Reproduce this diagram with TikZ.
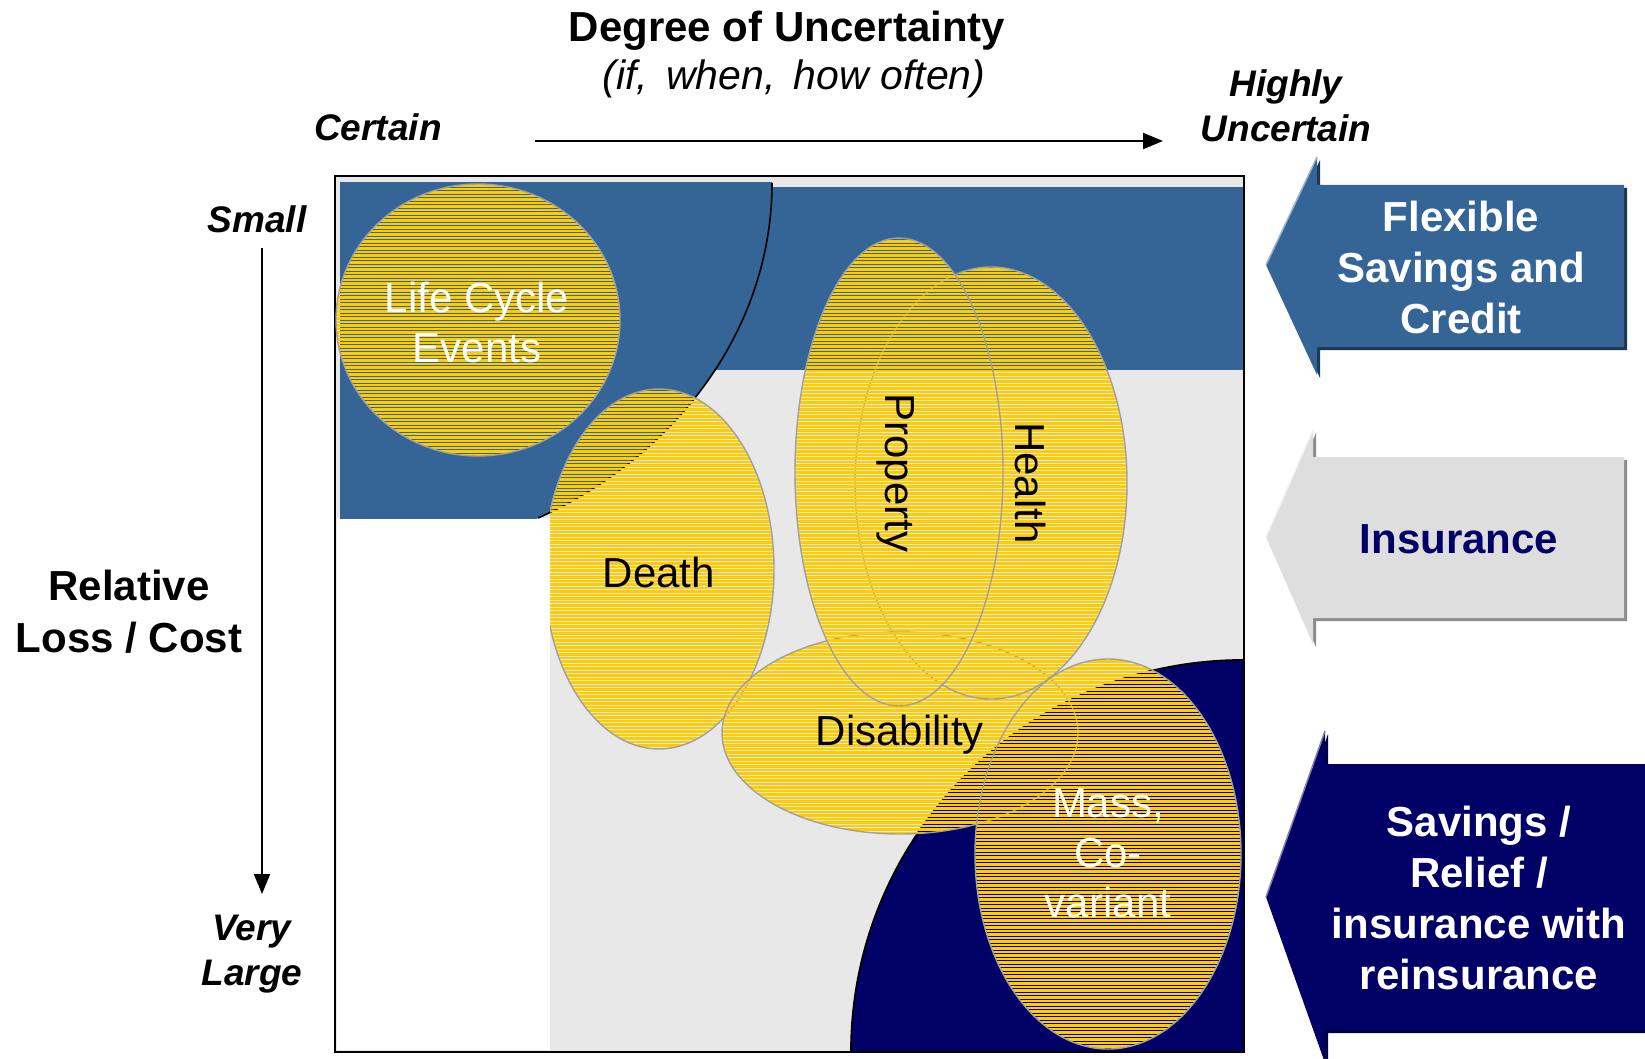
\documentclass[tikz,border=0pt]{standalone}
\usepackage{fontspec}
\setmainfont{Liberation Sans}
\usetikzlibrary{shapes.geometric,arrows.meta}
\definecolor{bandblue}{RGB}{52,101,150}
\definecolor{navy}{RGB}{0,0,102}
\definecolor{bggray}{RGB}{232,232,232}
\definecolor{ylw}{RGB}{255,204,0}
\definecolor{edgegray}{RGB}{160,160,160}
\definecolor{arrgray}{RGB}{222,222,222}
% yellow horizontal stripes inside an ellipse: centre x, centre y, x radius, y radius
\newcommand{\yellowstripes}[4]{%
  \begin{scope}
    \clip (#1,#2) ellipse [x radius=#3, y radius=#4];
    \foreach \yy in {175,178.5,...,1058}
      \draw[ylw, line width=2.75pt] (#1-#3-3,\yy) -- (#1+#3+3,\yy);
  \end{scope}}
\begin{document}
\begin{tikzpicture}[x=1pt,y=-1pt,
  blob/.style={ellipse, draw=edgegray, line width=1.4pt, inner sep=0pt},
  bigbold/.style={font=\fontsize{42}{52}\selectfont\bfseries, inner sep=0pt, align=center},
  axital/.style={font=\fontsize{37}{45}\selectfont\bfseries\itshape, inner sep=0pt, align=center},
  arrtxt/.style={font=\fontsize{42}{51}\selectfont\bfseries, inner sep=0pt, align=center},
  blobtxt/.style={font=\fontsize{42}{50}\selectfont, inner sep=0pt, align=center},
  axisarrow/.style={line width=2pt, -{Triangle[length=20pt,width=16pt]}}]
\useasboundingbox (0,0) rectangle (1645,1059);
\fill[white] (0,0) rectangle (1645,1059);

% ---- top axis ----
\node[bigbold, anchor=base] (title) at (787,42) {Degree of Uncertainty};
\node[font=\fontsize{41}{48}\selectfont\itshape, inner sep=0pt, anchor=base] (sub) at (794,90) {(if,\, when,\, how often)};
\node[axital, anchor=base] (certain) at (378,141) {Certain};
\node[axital, anchor=north] (highly) at (1286,69) {Highly\\Uncertain};
\coordinate (hs) at (535,141);
\coordinate (he) at (1163,141);
\draw[axisarrow] (hs) -- (he);

% ---- left axis ----
\node[axital, anchor=base] (small) at (257,233) {Small};
\coordinate (vs) at (262,248);
\coordinate (ve) at (262,894);
\draw[axisarrow] (vs) -- (ve);
\node[axital, anchor=north] (large) at (252,915) {Very\\Large};
\node[bigbold, anchor=north] (loss) at (129,570) {Relative\\Loss / Cost};

% ---- panel background ----
\fill[bggray] (335,176) rectangle (1244,1052);
\fill[white] (337,518) rectangle (550,1050);
\begin{scope}
  \clip (340,183) rectangle (772,518);
  \fill[bandblue] (340,183) ellipse [x radius=432, y radius=377];
\end{scope}
\fill[bandblue] (700,187) rectangle (1243,370);
\draw[line width=1.6pt] (772,183) arc[start angle=0, end angle=62.7, x radius=432, y radius=377];
\begin{scope}
  \clip (335,176) rectangle (1244,1052);
  \fill[navy] (1243,1052) circle (392);
\end{scope}
\draw[line width=1.8pt] (1243,660) arc[start angle=270, end angle=180, radius=392];
\draw[line width=1.6pt] (335,176) rectangle (1244,1052);

% ---- risk ellipses ----
\yellowstripes{478}{320}{142}{136}
\node[blob, minimum width=284pt, minimum height=272pt] (life) at (478,320) {};
\begin{scope}
  \clip (550,176) rectangle (1244,1052);
  \yellowstripes{659}{569}{115}{180}
  \node[blob, minimum width=230pt, minimum height=360pt] (death) at (659,569) {};
\end{scope}
\yellowstripes{900}{733}{178}{101}
\node[blob, minimum width=356pt, minimum height=202pt] (disab) at (900,733) {};
\yellowstripes{991}{483}{136}{216}
\node[blob, minimum width=272pt, minimum height=432pt] (health) at (991,483) {};
\yellowstripes{899}{472}{104}{234}
\node[blob, minimum width=208pt, minimum height=468pt] (prop) at (899,472) {};
\yellowstripes{1108}{854}{133}{195}
\node[blob, minimum width=266pt, minimum height=390pt] (mass) at (1108,854) {};

\node[blobtxt, text=white, anchor=north] (lifet) at (477,282) {Life Cycle\\Events};
\node[blobtxt, anchor=base] (deatht) at (659,587) {Death};
\node[blobtxt, anchor=base] (disabt) at (900,745) {Disability};
\node[blobtxt, rotate=-90] (propt) at (896,473) {Property};
\node[blobtxt, rotate=-90] (healtht) at (1030,483) {Health};
\node[blobtxt, text=white, anchor=north] (masst) at (1108,788) {Mass,\\Co-\\variant};

% ---- right arrows ----
% blue
\fill[bandblue!55!black] (1269,268) -- (1320,160) -- (1320,188) -- (1627,188) -- (1627,350) -- (1320,350) -- (1320,378) -- cycle;
\fill[bandblue] (1266,265) -- (1317,157) -- (1317,185) -- (1624,185) -- (1624,347) -- (1317,347) -- (1317,375) -- cycle;
\draw[bandblue!50!white, line width=1.5pt] (1266,265) -- (1317,157);
\node[arrtxt, text=white, anchor=north] (flex) at (1461,201) {Flexible\\Savings and\\Credit};
% gray
\fill[black!45] (1269,540) -- (1316,433) -- (1316,460) -- (1627,460) -- (1627,621) -- (1316,621) -- (1316,647) -- cycle;
\fill[arrgray] (1266,537) -- (1313,430) -- (1313,457) -- (1624,457) -- (1624,618) -- (1313,618) -- (1313,644) -- cycle;
\draw[white!95!black, line width=1.5pt] (1266,537) -- (1313,430);
\node[arrtxt, text=navy, anchor=base] (ins) at (1459,553) {Insurance};
% navy
\fill[navy!60!black] (1269,900) -- (1328,734) -- (1328,767) -- (1645,767) -- (1645,1033) -- (1328,1033) -- (1328,1066) -- cycle;
\fill[navy] (1266,897) -- (1325,731) -- (1325,764) -- (1645,764) -- (1645,1030) -- (1325,1030) -- (1325,1063) -- cycle;
\draw[navy!50!white, line width=1.5pt] (1266,897) -- (1325,731);
\node[arrtxt, text=white, anchor=north] (reins) at (1479,806) {Savings /\\Relief /\\insurance with\\reinsurance};
\end{tikzpicture}
\end{document}
